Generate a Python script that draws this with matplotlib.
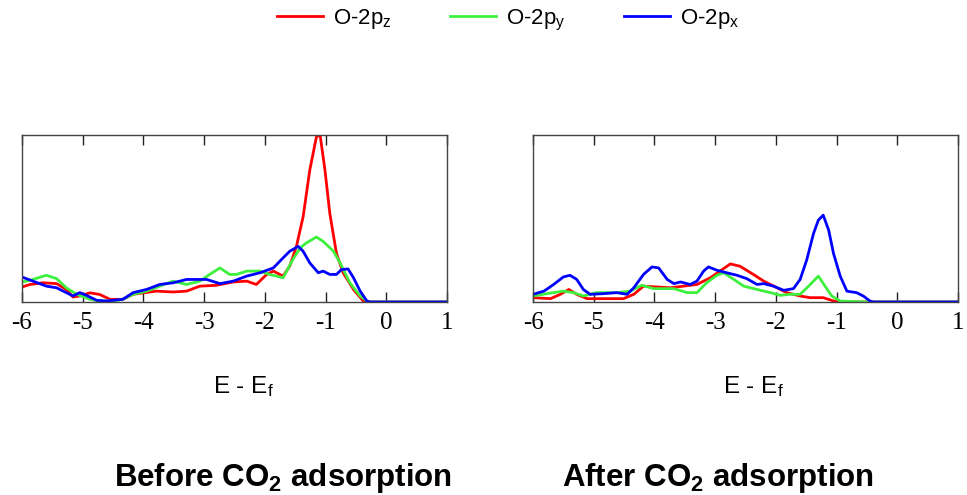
import matplotlib
matplotlib.use("Agg")
import matplotlib.pyplot as plt

plt.rcParams['font.family'] = ['Liberation Sans', 'DejaVu Sans']
plt.rcParams['mathtext.fontset'] = 'custom'
plt.rcParams['mathtext.rm'] = 'Liberation Sans'
plt.rcParams['mathtext.it'] = 'Liberation Sans:italic'
plt.rcParams['mathtext.bf'] = 'Liberation Sans:bold'

# ---------------- data: Before CO2 adsorption ----------------
before_pz_x = [-6.04, -5.87, -5.65, -5.43, -5.27, -5.16, -5.05, -4.88, -4.72, -4.55, -4.34,
               -4.17, -4.0, -3.79, -3.51, -3.29, -3.07, -2.8, -2.52, -2.3, -2.14, -1.97,
               -1.86, -1.70, -1.59, -1.48, -1.37, -1.26, -1.15, -1.09, -1.01, -0.93, -0.82,
               -0.71, -0.54, -0.38, -0.27, 0.0, 1.0]
before_pz_y = [0.085, 0.105, 0.115, 0.11, 0.075, 0.03, 0.036, 0.055, 0.045, 0.016, 0.016,
               0.046, 0.055, 0.065, 0.06, 0.065, 0.095, 0.1, 0.12, 0.125, 0.105, 0.165,
               0.185, 0.155, 0.215, 0.333, 0.51, 0.79, 0.99, 1.0, 0.79, 0.53, 0.29,
               0.175, 0.075, 0.006, 0.0, 0.0, 0.0]

before_py_x = [-6.04, -5.82, -5.6, -5.43, -5.27, -5.1, -4.88, -4.72, -4.5, -4.34, -4.17,
               -3.95, -3.73, -3.51, -3.29, -3.07, -2.91, -2.74, -2.58, -2.47, -2.3, -2.08,
               -1.92, -1.70, -1.54, -1.42, -1.32, -1.15, -1.04, -0.87, -0.76, -0.60, -0.43,
               -0.32, -0.27, 0.0, 1.0]
before_py_y = [0.115, 0.135, 0.16, 0.14, 0.085, 0.046, 0.016, 0.006, 0.006, 0.016, 0.046,
               0.065, 0.095, 0.125, 0.105, 0.125, 0.165, 0.204, 0.165, 0.165, 0.185, 0.185,
               0.165, 0.145, 0.254, 0.323, 0.353, 0.389, 0.363, 0.304, 0.234, 0.115, 0.036,
               0.006, 0.0, 0.0, 0.0]

before_px_x = [-6.04, -5.82, -5.6, -5.43, -5.27, -5.16, -5.05, -4.94, -4.77, -4.61, -4.34,
               -4.17, -3.95, -3.73, -3.51, -3.29, -2.96, -2.74, -2.52, -2.3, -2.08, -1.86,
               -1.70, -1.59, -1.45, -1.37, -1.26, -1.12, -1.04, -0.93, -0.82, -0.74, -0.63,
               -0.54, -0.43, -0.32, -0.27, 0.0, 1.0]
before_px_y = [0.155, 0.125, 0.095, 0.085, 0.056, 0.036, 0.056, 0.04, 0.01, 0.006, 0.016,
               0.056, 0.075, 0.105, 0.115, 0.135, 0.135, 0.11, 0.125, 0.155, 0.175, 0.204,
               0.264, 0.304, 0.333, 0.304, 0.234, 0.175, 0.185, 0.165, 0.165, 0.194, 0.198,
               0.145, 0.065, 0.006, 0.0, 0.0, 0.0]

# ---------------- data: After CO2 adsorption ----------------
after_pz_x = [-6.0, -5.71, -5.55, -5.41, -5.28, -5.11, -4.84, -4.51, -4.34, -4.18, -3.96,
              -3.74, -3.52, -3.3, -3.08, -2.92, -2.75, -2.59, -2.37, -2.2, -1.98, -1.82,
              -1.6, -1.44, -1.22, -1.05, -0.88, 0.0, 1.0]
after_pz_y = [0.026, 0.02, 0.046, 0.075, 0.046, 0.02, 0.02, 0.02, 0.046, 0.095, 0.09,
              0.085, 0.095, 0.105, 0.145, 0.185, 0.228, 0.214, 0.165, 0.125, 0.085, 0.056,
              0.036, 0.026, 0.026, 0.006, 0.0, 0.0, 0.0]

after_py_x = [-6.0, -5.77, -5.5, -5.33, -5.17, -4.95, -4.62, -4.4, -4.21, -4.01, -3.68,
              -3.46, -3.3, -3.14, -2.97, -2.86, -2.69, -2.53, -2.31, -2.09, -1.93, -1.76,
              -1.6, -1.46, -1.3, -1.19, -1.08, -0.94, -0.5, 0.0, 1.0]
after_py_y = [0.036, 0.05, 0.065, 0.056, 0.036, 0.056, 0.056, 0.065, 0.1, 0.08, 0.08,
              0.056, 0.056, 0.115, 0.16, 0.175, 0.135, 0.095, 0.075, 0.056, 0.04, 0.046,
              0.046, 0.095, 0.155, 0.095, 0.036, 0.006, 0.0, 0.0, 0.0]

after_px_x = [-6.0, -5.82, -5.66, -5.5, -5.39, -5.28, -5.17, -5.06, -4.84, -4.62, -4.45,
              -4.34, -4.18, -4.04, -3.93, -3.79, -3.68, -3.57, -3.41, -3.3, -3.19, -3.11,
              -2.97, -2.81, -2.64, -2.48, -2.31, -2.2, -2.04, -1.87, -1.71, -1.6, -1.49,
              -1.38, -1.3, -1.22, -1.13, -1.05, -0.94, -0.83, -0.67, -0.56, -0.45, -0.4,
              0.0, 1.0]
after_px_y = [0.046, 0.065, 0.105, 0.15, 0.16, 0.135, 0.075, 0.046, 0.05, 0.056, 0.046,
              0.085, 0.165, 0.21, 0.204, 0.135, 0.11, 0.12, 0.105, 0.125, 0.185, 0.21,
              0.19, 0.175, 0.16, 0.14, 0.105, 0.11, 0.095, 0.07, 0.08, 0.135, 0.254,
              0.41, 0.49, 0.52, 0.43, 0.29, 0.155, 0.065, 0.056, 0.036, 0.006, 0.0,
              0.0, 0.0]

series_labels = [r'O-2p$_\mathregular{z}$', r'O-2p$_\mathregular{y}$', r'O-2p$_\mathregular{x}$']
series_colors = ['#ff0000', '#3ef03e', '#0000ff']
xticks = [-6, -5, -4, -3, -2, -1, 0, 1]
panel_titles = [r'Before CO$_\mathbf{2}$ adsorption', r'After CO$_\mathbf{2}$ adsorption']
xlabel = r'E - E$_\mathregular{f}$'

panels = [
    [(before_pz_x, before_pz_y), (before_py_x, before_py_y), (before_px_x, before_px_y)],
    [(after_pz_x, after_pz_y), (after_py_x, after_py_y), (after_px_x, after_px_y)],
]

W, H = 967, 495
fig = plt.figure(figsize=(W / 100, H / 100), dpi=100)

ax_rects = [
    (22 / W, 1 - 302 / H, 425 / W, 167 / H),
    (533 / W, 1 - 302 / H, 425 / W, 167 / H),
]
xlabel_cx = [243 / W, 753 / W]
title_cx = [283 / W, 718 / W]

handles = []
for i, (rect, data) in enumerate(zip(ax_rects, panels)):
    ax = fig.add_axes(rect)
    for (xs, ys), lab, col in zip(data, series_labels, series_colors):
        ln, = ax.plot(xs, ys, color=col, lw=2.0, label=lab, solid_joinstyle='round')
        if i == 0:
            handles.append(ln)
    ax.set_xlim(-6, 1)
    ax.set_ylim(0, 1.0)
    ax.set_xticks(xticks)
    ax.set_xticklabels([str(t) for t in xticks], fontfamily='Liberation Serif', fontsize=18)
    ax.tick_params(axis='x', direction='in', length=7, width=1, top=True, bottom=True,
                   pad=7, color='#222222')
    ax.set_yticks([])
    for sp in ax.spines.values():
        sp.set_color('#444444')
        sp.set_linewidth(1.0)
    fig.text(xlabel_cx[i], 1 - 393 / H, xlabel, ha='center', va='baseline', fontsize=17.5)
    fig.text(title_cx[i], 1 - 486 / H, panel_titles[i],
             ha='center', va='baseline', fontsize=22.5, fontweight='bold')

fig.legend(handles, series_labels, loc='center', bbox_to_anchor=(508 / W, 1 - 20 / H),
           ncol=3, frameon=False, fontsize=16, handlelength=2.1, handletextpad=0.45,
           columnspacing=2.6)

fig.savefig('out.png', dpi=100)
